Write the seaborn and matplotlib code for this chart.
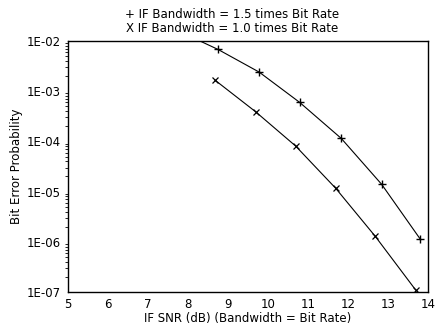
import matplotlib
matplotlib.use("Agg")
import matplotlib.pyplot as plt
import seaborn as sns
import pandas as pd
import numpy as np
from matplotlib.ticker import LogLocator, NullFormatter

snr_15 = [7.75, 8.75, 9.78, 10.79, 11.83, 12.84, 13.81]
ber_15 = [1.6e-2, 6.8e-3, 2.4e-3, 6.0e-4, 1.15e-4, 1.4e-5, 1.12e-6]
snr_10 = [8.68, 9.69, 10.69, 11.69, 12.68, 13.69]
ber_10 = [1.65e-3, 3.9e-4, 8.1e-5, 1.17e-5, 1.29e-6, 1.1e-7]
xticks = [5, 6, 7, 8, 9, 10, 11, 12, 13, 14]
yticks = [1e-7, 1e-6, 1e-5, 1e-4, 1e-3, 1e-2]
ytick_labels = ["1E-07", "1E-06", "1E-05", "1E-04", "1E-03", "1E-02"]

sns.set_style("white")
plt.rcParams['font.family'] = ['DejaVu Sans']
plt.rcParams['text.color'] = 'black'
plt.rcParams['axes.labelcolor'] = 'black'

fig = plt.figure(figsize=(4.47, 3.36), dpi=100)
ax = fig.add_axes([0.152, 0.131, 0.8055, 0.747])

df15 = pd.DataFrame({"snr": snr_15, "ber": ber_15})
df10 = pd.DataFrame({"snr": snr_10, "ber": ber_10})
sns.lineplot(data=df15, x="snr", y="ber", ax=ax, color="black", lw=0.8,
             marker="+", markersize=6, markeredgewidth=1.0,
             markeredgecolor="black", markerfacecolor="black")
sns.lineplot(data=df10, x="snr", y="ber", ax=ax, color="black", lw=0.8,
             marker="x", markersize=5, markeredgewidth=0.9,
             markeredgecolor="black", markerfacecolor="black")

ax.set_yscale("log")
ax.set_xlim(5, 14)
ax.set_ylim(1e-7, 1e-2)
ax.set_xticks(xticks)
ax.set_xticklabels([str(v) for v in xticks])
ax.set_yticks(yticks)
ax.set_yticklabels(ytick_labels)
ax.yaxis.set_minor_locator(LogLocator(base=10, subs=np.arange(2, 10)))
ax.yaxis.set_minor_formatter(NullFormatter())
ax.tick_params(axis="both", which="major", direction="out", length=3, width=0.8,
               labelsize=8.5, colors="black", pad=2)
ax.tick_params(axis="y", which="minor", direction="out", length=2, width=0.6, left=True,
               colors="black")
ax.tick_params(axis="x", which="major", length=2)

for s in ax.spines.values():
    s.set_color("black")
    s.set_linewidth(1.0)

ax.set_xlabel("IF SNR (dB) (Bandwidth = Bit Rate)", fontsize=8.5, labelpad=1)
ax.set_ylabel("Bit Error Probability", fontsize=8.5, labelpad=3)

fig.text(0.519, 0.958, "+ IF Bandwidth = 1.5 times Bit Rate", ha="center", va="center", fontsize=8.5)
fig.text(0.519, 0.915, "X IF Bandwidth = 1.0 times Bit Rate", ha="center", va="center", fontsize=8.5)

fig.savefig("out.png", dpi=100)
